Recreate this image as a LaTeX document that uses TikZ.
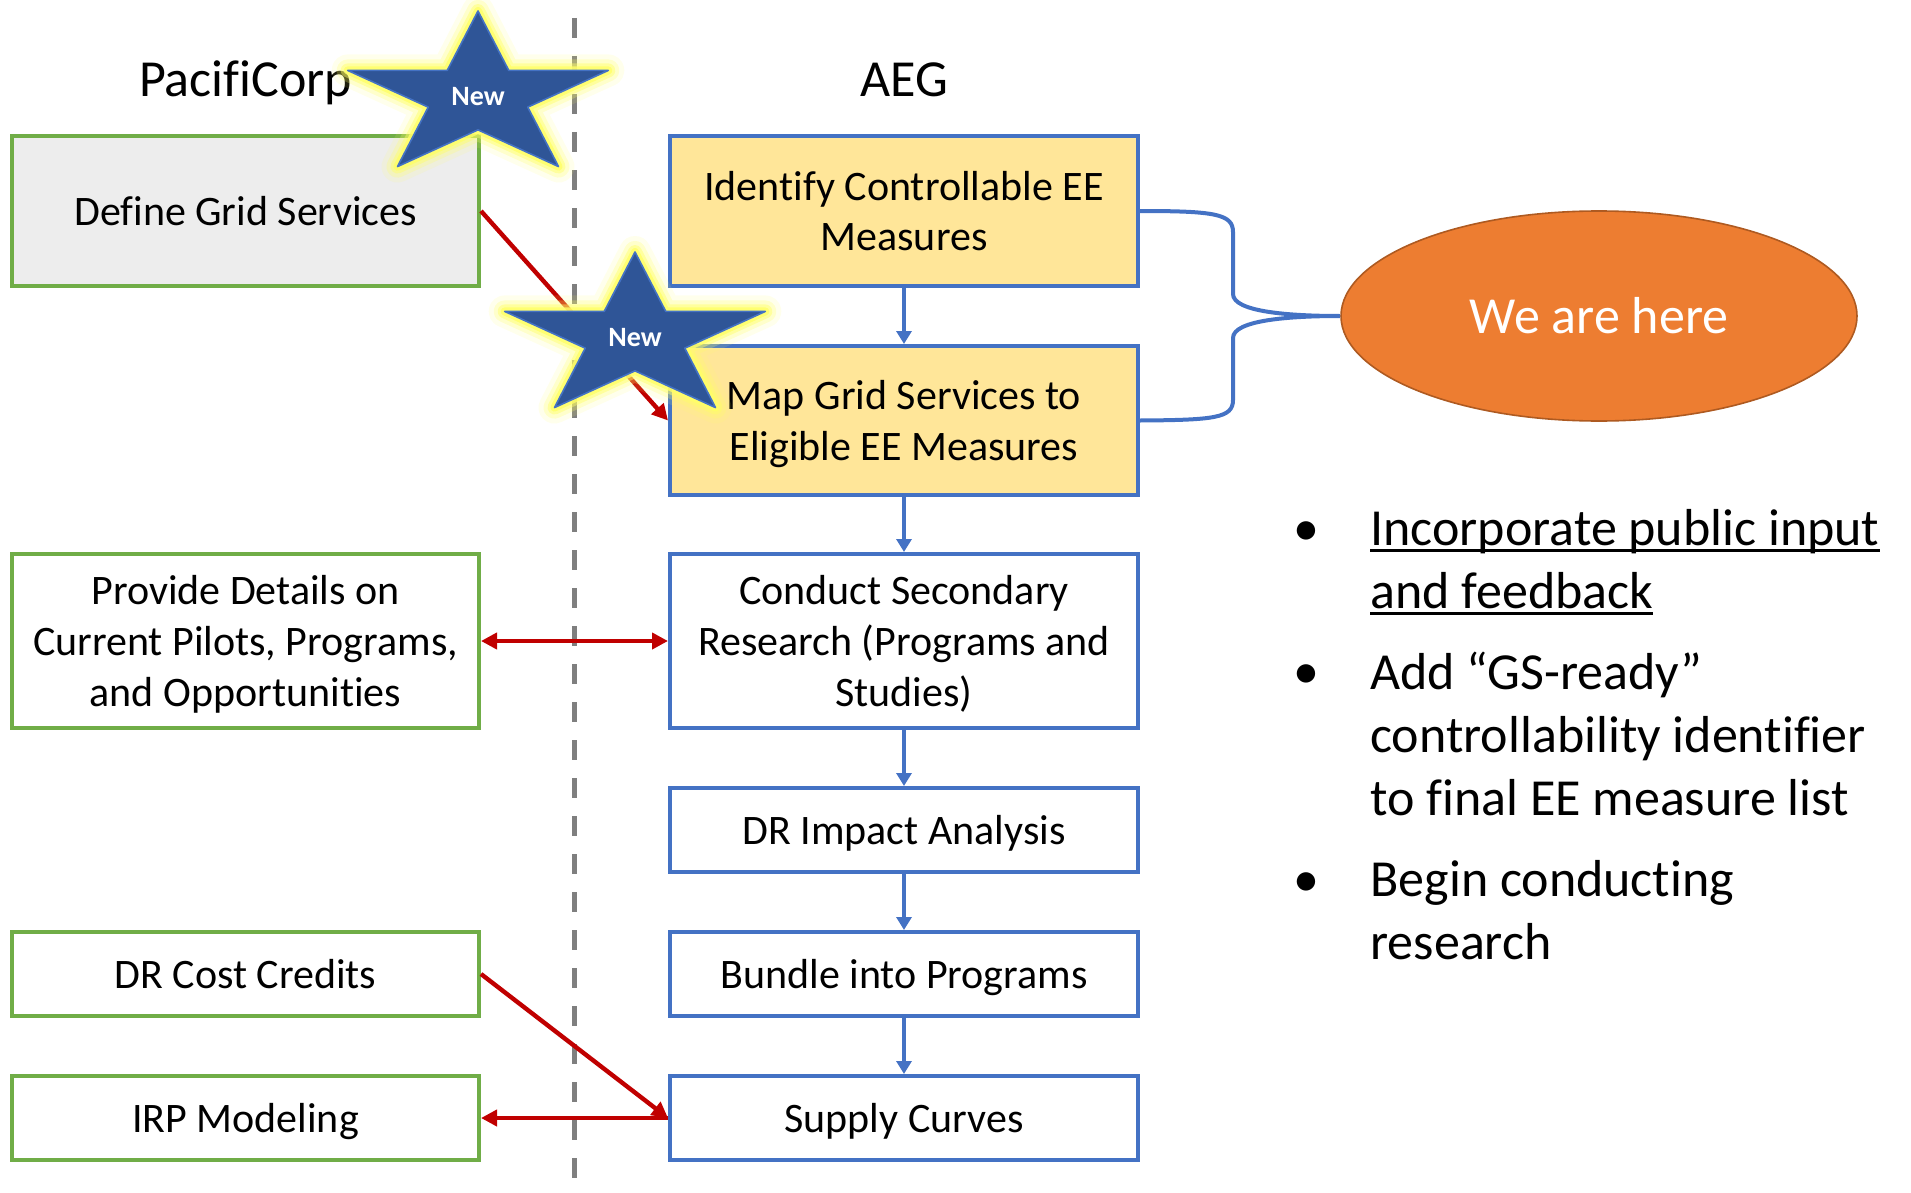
\documentclass[tikz,border=0pt]{standalone}
\usepackage{fontspec}
\setmainfont{Carlito}[Ligatures=NoCommon]
\usetikzlibrary{arrows.meta,shapes.geometric}
\definecolor{cPac}  {HTML}{70AD47}
\definecolor{cAeg}  {HTML}{4472C4}
\definecolor{cGrey} {HTML}{EDEDED}
\definecolor{cGold} {HTML}{FFE699}
\definecolor{cHere} {HTML}{ED7D31}
\definecolor{cHereDk}{HTML}{AE5A21}
\definecolor{cLink} {HTML}{C00000}
\definecolor{cStar} {HTML}{2F5597}
\definecolor{cGlow} {HTML}{FFFF66}
\definecolor{divider}{HTML}{7F7F7F}
\newcommand{\boxfont}{\fontsize{21}{25.3}\selectfont}
\newcommand{\headfont}{\fontsize{26}{31.5}\selectfont}
\newcommand{\ulined}[1]{\setbox0\hbox{#1}\rlap{\rule[-3.6pt]{\wd0}{1.4pt}}\box0}
\newcommand{\newbadge}[3]{%
  \begin{scope}[shift={(#1,#2)},x=68.5pt,y=43pt]
    \foreach \w/\o in {16/0.12,11/0.25,7/0.45,4/0.8}
      \draw[cGlow,line width=\w pt,opacity=\o,line join=round]
        (90:1) \foreach \k in {1,...,9}{ -- ({90+36*\k}:{ifthenelse(isodd(\k),0.382,1)}) } -- cycle;
    \draw[fill=cStar,draw=cAeg,line width=0.8pt,line join=round]
      (90:1) \foreach \k in {1,...,9}{ -- ({90+36*\k}:{ifthenelse(isodd(\k),0.382,1)}) } -- cycle;
  \end{scope}%
  \node[font=\fontsize{14}{16}\selectfont\bfseries,text=white] (#3) at (#1,#2) {New};%
}

\begin{document}
\begin{tikzpicture}[x=0.5pt,y=-0.5pt,
    pacbox/.style={draw=cPac,line width=2pt,minimum width=233.5pt,text depth=0pt,
                   inner sep=2pt,align=center,font=\boxfont},
    aegbox/.style={draw=cAeg,line width=2pt,minimum width=234pt,text depth=0pt,
                   inner sep=2pt,align=center,font=\boxfont},
    head/.style={font=\headfont,anchor=base},
    flow/.style={cAeg,line width=2pt,-{Triangle[length=6.5pt,width=7.5pt]}},
    link/.style={cLink,line width=2.2pt,-{Triangle[length=8pt,width=8pt]}},
    twoway/.style={cLink,line width=2.2pt,
                   {Triangle[length=8pt,width=8pt]}-{Triangle[length=8pt,width=8pt]}},
    dot/.style={font=\headfont,anchor=base},
    item/.style={font=\headfont,anchor=base west,align=left,inner sep=0pt},
  ]

% fixed page size
\useasboundingbox (0,0) rectangle (1911,1193);

% ---- divider ---------------------------------------------------------------
\draw[divider,line width=2.5pt,dash pattern=on 10pt off 9pt] (574,18) -- (574,1193);

% ---- column heads ----------------------------------------------------------
\node[head] (pac) at (245.5,97) {PacifiCorp};
\node[head] (aeg) at (904,97) {AEG};

% ---- PacifiCorp column -----------------------------------------------------
\node[pacbox,fill=cGrey,minimum height=75pt] (define) at (245.5,211) {Define Grid Services};
\node[pacbox,minimum height=87pt] (pilots) at (245.5,641)
  {Provide Details on\\Current Pilots, Programs,\\and Opportunities};
\node[pacbox,minimum height=42pt] (credits) at (245.5,974) {DR Cost Credits};
\node[pacbox,minimum height=42pt] (irp) at (245.5,1118) {IRP Modeling};

% ---- AEG column ------------------------------------------------------------
\node[aegbox,fill=cGold,minimum height=75pt] (ident) at (904,211)
  {Identify Controllable EE\\Measures};
\node[aegbox,fill=cGold,minimum height=74.5pt] (map) at (904,420.5)
  {Map Grid Services to\\Eligible EE Measures};
\node[aegbox,minimum height=87pt] (research) at (904,641)
  {Conduct Secondary\\Research (Programs and\\Studies)};
\node[aegbox,minimum height=42pt] (impact) at (904,830) {DR Impact Analysis};
\node[aegbox,minimum height=42pt] (bundle) at (904,974) {Bundle into Programs};
\node[aegbox,minimum height=42pt] (supply) at (904,1118) {Supply Curves};

\draw[flow] (ident) -- (map);
\draw[flow] (map) -- (research);
\draw[flow] (research) -- (impact);
\draw[flow] (impact) -- (bundle);
\draw[flow] (bundle) -- (supply);

% ---- hand-offs -------------------------------------------------------------
\draw[link] (define.east) -- (map.west);
\draw[twoway] (pilots) -- (research);
\draw[link] (credits.east) -- (supply.west);
\draw[link] (supply.west) -- (irp.east);

% ---- current step ----------------------------------------------------------
\node[ellipse,fill=cHere,draw=cHereDk,line width=0.8pt,minimum width=258pt,
      minimum height=105pt,inner sep=0pt,text=white,font=\headfont]
  (here) at (1599,316) {We are here};

\draw[cAeg,line width=2pt]
  (ident.east) .. controls (1215,211) and (1233,214) .. (1233,232)
  -- (1233,294) .. controls (1233,312) and (1290,316) .. (here.west)
  .. controls (1290,316) and (1233,320) .. (1233,338)
  -- (1233,400) .. controls (1233,418) and (1215,420) .. (map.east);

% ---- next steps (nodes sit on their last baseline) --------------------------
\node[dot] (d1) at (1306,545) {•};
\node[item] (s1) at (1370,608) {\ulined{Incorporate public input}\\\ulined{and feedback}};
\node[dot] (d2) at (1306,688) {•};
\node[item] (s2) at (1370,815) {Add “GS-ready”\\controllability identifier\\to final EE measure list};
\node[dot] (d3) at (1306,896) {•};
\node[item] (s3) at (1370,959) {Begin conducting\\research};

% ---- badges ----------------------------------------------------------------
\newbadge{478}{97}{newA}
\newbadge{635}{338}{newB}

\end{tikzpicture}
\end{document}
